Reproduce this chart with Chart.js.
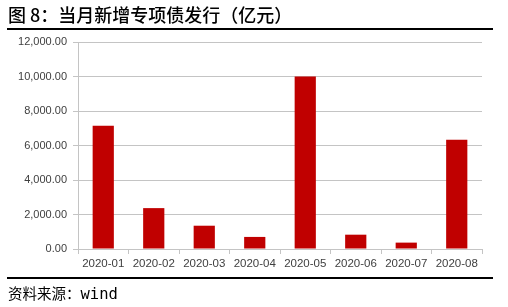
<!DOCTYPE html>
<html>
<head>
<meta charset="utf-8">
<script src="https://cdn.jsdelivr.net/npm/chart.js@4.4.0/dist/chart.umd.min.js"></script>
<style>
  html, body { margin: 0; padding: 0; background: #fff; }
  #wrap { position: relative; width: 508px; height: 307px; overflow: hidden; }
  #barChart { position: absolute; left: 0; top: 0; }
  .title { position: absolute; left: 8px; top: 2px; font-family: "Noto Sans CJK SC", sans-serif; font-size: 18px; font-weight: 500; color: #000; white-space: nowrap; line-height: 24px; }
  .rule { position: absolute; left: 7px; width: 486px; background: #000; }
  .source { position: absolute; left: 8px; top: 283px; font-family: "Noto Sans CJK SC", sans-serif; font-size: 14.5px; color: #000; white-space: nowrap; line-height: 20px; }
  .source span { font-family: "DejaVu Sans Mono", monospace; font-size: 15.5px; }
</style>
</head>
<body>
<div id="wrap">
  <canvas id="barChart" width="508" height="307"></canvas>
  <div class="title">图 8：当月新增专项债发行（亿元）</div>
  <div class="rule" style="top:28px;height:2px;"></div>
  <div class="rule" style="top:277px;height:2px;"></div>
  <div class="source">资料来源：<span>wind</span></div>
</div>
<script>
// months on the x axis
var months = ["2020-01", "2020-02", "2020-03", "2020-04", "2020-05", "2020-06", "2020-07", "2020-08"];
// new special bonds issued each month (100 million yuan)
var issued = [7150, 2370, 1350, 700, 10000, 830, 370, 6340];
// y axis ticks
var yTicks = [0, 2000, 4000, 6000, 8000, 10000, 12000];

var gridGray = "#c4c4c4";
var labelColor = "#404040";

function fmt(v){
    return v.toLocaleString("en-US", {minimumFractionDigits: 2, maximumFractionDigits: 2});
}

const CHART = document.getElementById('barChart');
let barChart = new Chart(CHART, {
    type: 'bar',
    data: {
        labels: months,
        datasets: [{
            data: issued,
            backgroundColor: "#c00000",
            borderWidth: 0,
            barPercentage: 0.42,
            categoryPercentage: 1
        }]
    },
    options: {
        responsive: false,
        animation: false,
        devicePixelRatio: 1,
        layout: { padding: { left: 0, right: 26, top: 42, bottom: 0 } },
        plugins: { legend: { display: false }, tooltip: { enabled: false } },
        scales: {
            x: {
                afterFit: function(scale){ scale.height = 58; },
                grid: { drawOnChartArea: false, drawTicks: true, tickLength: 5, color: gridGray, offset: true },
                border: { display: true, color: gridGray, width: 1 },
                ticks: {
                    color: labelColor,
                    padding: 3,
                    maxRotation: 0,
                    font: { family: "'Liberation Sans', Arial, sans-serif", size: 11.5 }
                }
            },
            y: {
                min: 0,
                max: 12000,
                afterFit: function(scale){ scale.width = 78; },
                afterBuildTicks: function(scale){ scale.ticks = yTicks.map(function(v){ return {value: v}; }); },
                grid: { color: gridGray, tickLength: 5, drawTicks: true },
                border: { display: true, color: gridGray, width: 1 },
                ticks: {
                    color: labelColor,
                    padding: 6,
                    callback: function(v){ return fmt(v); },
                    font: { family: "'Liberation Sans', Arial, sans-serif", size: 11 }
                }
            }
        }
    }
});
</script>
</body>
</html>
